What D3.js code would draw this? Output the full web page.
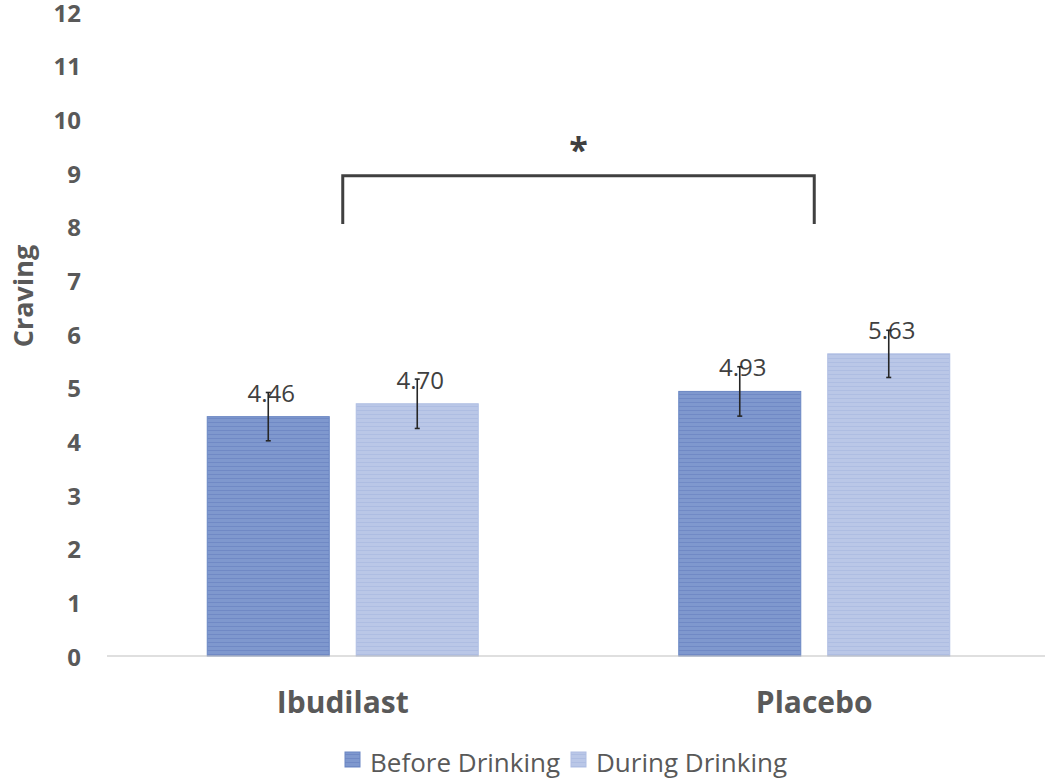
<!DOCTYPE html>
<html>
<head>
<meta charset="utf-8">
<script src="https://cdn.jsdelivr.net/npm/d3@7"></script>
<style>
  body { margin: 0; background: #fff; }
  text { font-family: "Open Sans", "Noto Sans", sans-serif; }
</style>
</head>
<body>
<svg id="chart" width="1050" height="781"></svg>
<script>
// data
const groups = ['Ibudilast', 'Placebo'];
const series = ['Before Drinking', 'During Drinking'];
const before = [4.46, 4.93];
const during = [4.70, 5.63];
const beforeErr = [0.45, 0.46];
const duringErr = [0.46, 0.44];
const yTicks = [0, 1, 2, 3, 4, 5, 6, 7, 8, 9, 10, 11, 12];
const bracketTop = 8.95, bracketBottom = 8.05;

const values = [before, during];
const errs = [beforeErr, duringErr];

const svg = d3.select('#chart');

const y = d3.scaleLinear().domain([0, 12]).range([656, 12]);
const x0 = d3.scaleBand().domain(groups).range([107, 1050]);
const x1 = d3.scaleBand().domain(series).range([-135.5, 135.5]).paddingInner(0.181);

// striped fills like the original
const defs = svg.append('defs');
const fills = [
  { id: 'stripeA', base: '#7f98ce', line: '#7089c5' },
  { id: 'stripeB', base: '#bac7e7', line: '#aebde2' }
];
fills.forEach(f => {
  const p = defs.append('pattern')
    .attr('id', f.id)
    .attr('patternUnits', 'userSpaceOnUse')
    .attr('width', 8).attr('height', 4);
  p.append('rect').attr('width', 8).attr('height', 4).attr('fill', f.base);
  p.append('rect').attr('y', 2).attr('width', 8).attr('height', 1).attr('fill', f.line);
});
const strokes = ['#6a86c3', '#afbee3'];

// y tick labels (no axis line in the original)
svg.append('g')
  .selectAll('text')
  .data(yTicks)
  .join('text')
  .attr('x', 81)
  .attr('y', d => y(d))
  .attr('text-anchor', 'end')
  .attr('dominant-baseline', 'central')
  .attr('font-size', 24)
  .attr('font-weight', 'bold')
  .attr('fill', '#595959')
  .text(d => d);

svg.append('text')
  .attr('transform', 'translate(22,296) rotate(-90)')
  .attr('text-anchor', 'middle')
  .attr('dominant-baseline', 'central')
  .attr('font-size', 27)
  .attr('font-weight', 'bold')
  .attr('fill', '#595959')
  .text('Craving');

// bars
const gGroups = svg.append('g')
  .selectAll('g')
  .data(groups)
  .join('g')
  .attr('transform', d => 'translate(' + (x0(d) + x0.bandwidth() / 2) + ',0)');

series.forEach((s, si) => {
  gGroups.append('rect')
    .attr('x', x1(s))
    .attr('y', (d, gi) => y(values[si][gi]))
    .attr('width', x1.bandwidth())
    .attr('height', (d, gi) => y(0) - y(values[si][gi]))
    .attr('fill', 'url(#' + fills[si].id + ')')
    .attr('stroke', strokes[si])
    .attr('stroke-width', 1);
});

// x axis baseline
svg.append('line')
  .attr('x1', 107).attr('x2', 1045)
  .attr('y1', y(0)).attr('y2', y(0))
  .attr('stroke', '#bfbfbf')
  .attr('stroke-width', 1.2);

// value labels
series.forEach((s, si) => {
  gGroups.append('text')
    .attr('x', x1(s) + x1.bandwidth() / 2 + 3)
    .attr('y', (d, gi) => y(values[si][gi]) - 15)
    .attr('text-anchor', 'middle')
    .attr('font-size', 24)
    .attr('fill', '#404040')
    .text((d, gi) => values[si][gi].toFixed(2));
});

// error bars
series.forEach((s, si) => {
  const cx = x1(s) + x1.bandwidth() / 2;
  const eb = gGroups.append('g')
    .attr('stroke', '#262626')
    .attr('stroke-width', 1.6);
  eb.append('line')
    .attr('x1', cx).attr('x2', cx)
    .attr('y1', (d, gi) => y(values[si][gi] + errs[si][gi]))
    .attr('y2', (d, gi) => y(values[si][gi] - errs[si][gi]));
  [1, -1].forEach(sign => {
    eb.append('line')
      .attr('x1', cx - 2.5).attr('x2', cx + 2.5)
      .attr('y1', (d, gi) => y(values[si][gi] + sign * errs[si][gi]))
      .attr('y2', (d, gi) => y(values[si][gi] + sign * errs[si][gi]));
  });
});

// category labels
svg.append('g')
  .selectAll('text')
  .data(groups)
  .join('text')
  .attr('x', d => x0(d) + x0.bandwidth() / 2)
  .attr('y', 713)
  .attr('text-anchor', 'middle')
  .attr('font-size', 30)
  .attr('font-weight', 'bold')
  .attr('fill', '#595959')
  .text(d => d);

// significance bracket
const bx1 = x0(groups[0]) + x0.bandwidth() / 2;
const bx2 = x0(groups[1]) + x0.bandwidth() / 2;
svg.append('path')
  .attr('d', d3.line()([[bx1, y(bracketBottom)], [bx1, y(bracketTop)], [bx2, y(bracketTop)], [bx2, y(bracketBottom)]]))
  .attr('fill', 'none')
  .attr('stroke', '#404040')
  .attr('stroke-width', 3);

svg.append('text')
  .attr('x', (bx1 + bx2) / 2)
  .attr('y', y(bracketTop) - 14)
  .attr('text-anchor', 'middle')
  .attr('font-size', 34)
  .attr('font-weight', 'bold')
  .attr('fill', '#404040')
  .text('*');

// legend
const legendX = [345, 571];
const legend = svg.append('g')
  .selectAll('g')
  .data(series)
  .join('g')
  .attr('transform', (d, i) => 'translate(' + legendX[i] + ',752)');
legend.append('rect')
  .attr('width', 15).attr('height', 15)
  .attr('fill', (d, i) => 'url(#' + fills[i].id + ')')
  .attr('stroke', (d, i) => strokes[i]);
legend.append('text')
  .attr('x', 25)
  .attr('y', 20)
  .attr('font-size', 26)
  .attr('fill', '#595959')
  .text(d => d);
</script>
</body>
</html>
